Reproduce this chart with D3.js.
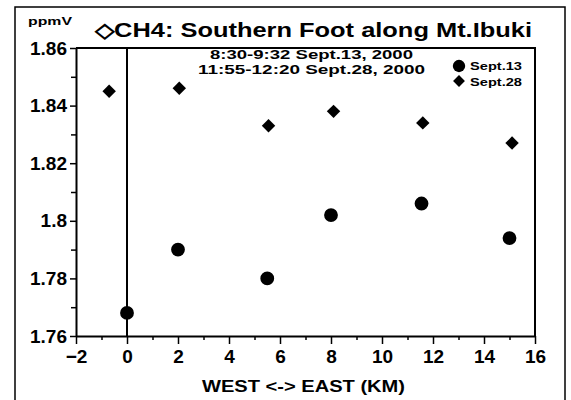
<!DOCTYPE html>
<html>
<head>
<meta charset="utf-8">
<script src="https://cdn.jsdelivr.net/npm/d3@7/dist/d3.min.js"></script>
<style>
  body { margin: 0; background: #fff; }
  text { font-family: "Liberation Sans", Arial, sans-serif; font-weight: bold; fill: #000; }
</style>
</head>
<body>
<svg width="571" height="400"></svg>
<script>
// distance west -> east (km) and CH4 (ppmV)
const distSep13 = [0, 2.0, 5.5, 8.0, 11.55, 15.0];
const ch4Sep13 = [1.768, 1.790, 1.780, 1.802, 1.806, 1.794];
const distSep28 = [-0.7, 2.05, 5.55, 8.1, 11.6, 15.1];
const ch4Sep28 = [1.845, 1.846, 1.833, 1.838, 1.834, 1.827];

const xTicks = [-2, 0, 2, 4, 6, 8, 10, 12, 14, 16];
const yTicks = [1.76, 1.78, 1.8, 1.82, 1.84, 1.86];
const yTickLabels = ['1.76', '1.78', '1.8', '1.82', '1.84', '1.86'];

const svg = d3.select('svg');
const width = +svg.attr('width');
const height = +svg.attr('height');

const margin = {top: 48, right: 36, bottom: 64, left: 76};
const innerWidth = width - margin.left - margin.right;
const innerHeight = height - margin.top - margin.bottom;

const xscale = d3.scaleLinear().domain([-2, 16]).range([0, innerWidth]);
const yscale = d3.scaleLinear().domain([1.76, 1.86]).range([innerHeight, 0]);

// buitenkader
svg.append('rect')
    .attr('x', 15).attr('y', 7)
    .attr('width', 550).attr('height', 400)
    .attr('fill', 'none').attr('stroke', '#000').attr('stroke-width', 1.5);

// titel
svg.append('text')
    .attr('x', 95).attr('y', 37)
    .attr('font-size', 20)
    .attr('textLength', 437).attr('lengthAdjust', 'spacingAndGlyphs')
    .text('\u25C7CH4:  Southern Foot along Mt.Ibuki');

svg.append('text')
    .attr('x', 28).attr('y', 25)
    .attr('font-size', 11)
    .attr('textLength', 44).attr('lengthAdjust', 'spacingAndGlyphs')
    .text('ppmV');

const g = svg.append('g')
    .attr('transform', `translate(${margin.left}, ${margin.top})`);

// subtitel in het plotvak
g.append('text')
    .attr('x', 210 - margin.left).attr('y', 59 - margin.top)
    .attr('font-size', 13)
    .attr('textLength', 203).attr('lengthAdjust', 'spacingAndGlyphs')
    .text('8:30-9:32 Sept.13, 2000');
g.append('text')
    .attr('x', 198 - margin.left).attr('y', 74 - margin.top)
    .attr('font-size', 13)
    .attr('textLength', 227).attr('lengthAdjust', 'spacingAndGlyphs')
    .text('11:55-12:20 Sept.28, 2000');

// kader bovenkant en rechts
g.append('path')
    .attr('d', `M0,0H${innerWidth}V${innerHeight}`)
    .attr('fill', 'none').attr('stroke', '#000').attr('stroke-width', 2);

// minor ticks
const xAxisMinor = d3.axisBottom(xscale)
    .tickValues(d3.range(-1, 16, 2)).tickSize(4).tickFormat('');
g.append('g').attr('transform', `translate(0, ${innerHeight})`).call(xAxisMinor);

const yAxisMinor = d3.axisLeft(yscale)
    .tickValues([1.77, 1.79, 1.81, 1.83, 1.85]).tickSize(5).tickFormat('');
g.append('g').call(yAxisMinor);

// hoofdassen
const xAxis = d3.axisBottom(xscale)
    .tickValues(xTicks).tickSize(8).tickSizeOuter(0).tickPadding(6)
    .tickFormat(d => d < 0 ? '\u2212' + Math.abs(d) : d);
const xg = g.append('g').attr('transform', `translate(0, ${innerHeight})`).call(xAxis);

const yAxis = d3.axisLeft(yscale)
    .tickValues(yTicks).tickSize(6).tickSizeOuter(0).tickPadding(3)
    .tickFormat((d, i) => yTickLabels[i]);
const yg = g.append('g').call(yAxis);

[xg, yg].forEach(a => {
    a.select('.domain').attr('stroke-width', 2);
    a.selectAll('text').attr('font-size', 19)
        .attr('font-family', '"Liberation Sans", Arial, sans-serif')
        .attr('font-weight', 'bold');
});
g.selectAll('.tick line').attr('stroke-width', 1.5);

// verticale lijn bij x = 0
g.append('line')
    .attr('x1', xscale(0)).attr('x2', xscale(0))
    .attr('y1', 0).attr('y2', innerHeight)
    .attr('stroke', '#000').attr('stroke-width', 2);

// as-titel
svg.append('text')
    .attr('x', 202).attr('y', 392)
    .attr('font-size', 16)
    .attr('textLength', 203).attr('lengthAdjust', 'spacingAndGlyphs')
    .text('WEST <-> EAST   (KM)');

// punten
const circle = d3.symbol(d3.symbolCircle).size(150);
const diamond = d3.symbol(d3.symbolSquare).size(90);

g.selectAll('.sep13').data(distSep13)
    .enter().append('path')
    .attr('class', 'sep13')
    .attr('d', circle)
    .attr('transform', (d, i) => `translate(${xscale(d)}, ${yscale(ch4Sep13[i])})`);

g.selectAll('.sep28').data(distSep28)
    .enter().append('path')
    .attr('class', 'sep28')
    .attr('d', diamond)
    .attr('transform', (d, i) => `translate(${xscale(d)}, ${yscale(ch4Sep28[i])}) rotate(45)`);

// legenda
const legend = svg.append('g');
legend.append('path').attr('d', d3.symbol(d3.symbolCircle).size(120))
    .attr('transform', 'translate(459, 66)');
legend.append('path').attr('d', d3.symbol(d3.symbolSquare).size(70))
    .attr('transform', 'translate(459, 81) rotate(45)');
legend.append('text').attr('x', 470).attr('y', 70).attr('font-size', 11)
    .attr('textLength', 52).attr('lengthAdjust', 'spacingAndGlyphs').text('Sept.13');
legend.append('text').attr('x', 470).attr('y', 86).attr('font-size', 11)
    .attr('textLength', 52).attr('lengthAdjust', 'spacingAndGlyphs').text('Sept.28');
</script>
</body>
</html>
